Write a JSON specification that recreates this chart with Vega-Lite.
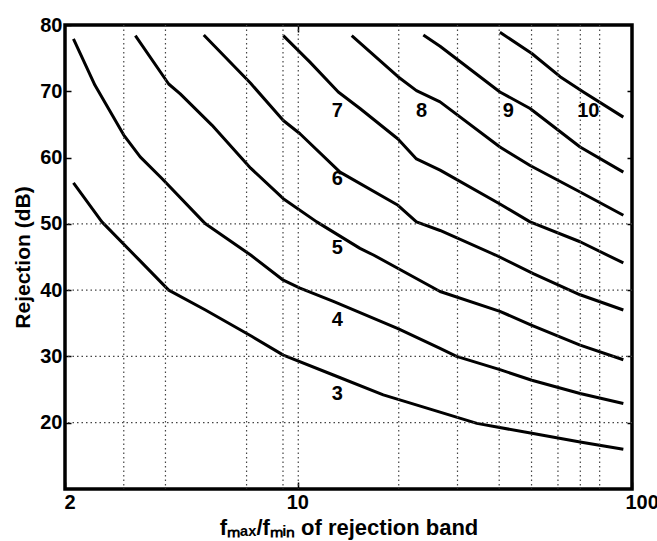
{
  "$schema": "https://vega.github.io/schema/vega-lite/v6.json",
  "width": 567,
  "height": 464,
  "autosize": {"type": "none"},
  "padding": {"left": 65, "top": 25, "right": 25, "bottom": 52},
  "background": "white",
  "config": {
    "view": {"stroke": "black", "strokeWidth": 3.5},
    "font": "Liberation Sans",
    "axis": {
      "grid": false, "domain": false, "tickColor": "black", "tickWidth": 1.5,
      "labelFontSize": 20, "labelFontWeight": "bold", "labelColor": "black", "labelFont": "Liberation Sans",
      "titleFontSize": 21, "titleFontWeight": "bold", "titleColor": "black", "titleFont": "Liberation Sans"
    }
  },
  "resolve": {"axis": {"x": "independent", "y": "independent"}},
  "datasets": {
    "vgrid": [{"x": 3}, {"x": 4}, {"x": 7}, {"x": 9}, {"x": 10}, {"x": 20}, {"x": 30}, {"x": 40}, {"x": 50}, {"x": 60}, {"x": 70}, {"x": 80}],
    "hgrid": [{"y": 20}, {"y": 30}, {"y": 40}, {"y": 50}],
    "curves": [
      {"n": "3", "x": 2.12, "y": 56.2}, {"n": "3", "x": 2.58, "y": 50.3}, {"n": "3", "x": 3.33, "y": 44.6}, {"n": "3", "x": 4.09, "y": 40.0}, {"n": "3", "x": 5.27, "y": 37.0}, {"n": "3", "x": 7.27, "y": 33.0}, {"n": "3", "x": 9.02, "y": 30.2}, {"n": "3", "x": 12.74, "y": 27.2}, {"n": "3", "x": 17.98, "y": 24.2}, {"n": "3", "x": 26.6, "y": 21.6}, {"n": "3", "x": 34.3, "y": 19.9}, {"n": "3", "x": 50.1, "y": 18.4}, {"n": "3", "x": 69.9, "y": 17.1}, {"n": "3", "x": 94.2, "y": 16.0},
      {"n": "4", "x": 2.12, "y": 77.9}, {"n": "4", "x": 2.46, "y": 70.9}, {"n": "4", "x": 3.0, "y": 63.4}, {"n": "4", "x": 3.36, "y": 60.1}, {"n": "4", "x": 3.91, "y": 56.8}, {"n": "4", "x": 5.27, "y": 50.0}, {"n": "4", "x": 7.2, "y": 45.3}, {"n": "4", "x": 9.02, "y": 41.5}, {"n": "4", "x": 10.12, "y": 40.3}, {"n": "4", "x": 12.74, "y": 38.3}, {"n": "4", "x": 19.9, "y": 34.2}, {"n": "4", "x": 26.6, "y": 31.2}, {"n": "4", "x": 29.8, "y": 30.0}, {"n": "4", "x": 40.2, "y": 28.0}, {"n": "4", "x": 50.1, "y": 26.4}, {"n": "4", "x": 69.9, "y": 24.4}, {"n": "4", "x": 94.2, "y": 22.9},
      {"n": "5", "x": 3.25, "y": 78.4}, {"n": "5", "x": 4.09, "y": 71.1}, {"n": "5", "x": 4.43, "y": 69.6}, {"n": "5", "x": 5.51, "y": 64.9}, {"n": "5", "x": 7.2, "y": 58.4}, {"n": "5", "x": 9.02, "y": 53.8}, {"n": "5", "x": 11.36, "y": 50.3}, {"n": "5", "x": 15.31, "y": 46.3}, {"n": "5", "x": 16.8, "y": 45.3}, {"n": "5", "x": 26.6, "y": 39.8}, {"n": "5", "x": 40.2, "y": 36.8}, {"n": "5", "x": 50.1, "y": 34.7}, {"n": "5", "x": 69.9, "y": 31.7}, {"n": "5", "x": 94.2, "y": 29.5},
      {"n": "6", "x": 5.21, "y": 78.5}, {"n": "6", "x": 7.2, "y": 71.2}, {"n": "6", "x": 9.02, "y": 65.6}, {"n": "6", "x": 10.12, "y": 63.6}, {"n": "6", "x": 13.34, "y": 57.8}, {"n": "6", "x": 19.9, "y": 52.8}, {"n": "6", "x": 22.6, "y": 50.3}, {"n": "6", "x": 26.6, "y": 49.0}, {"n": "6", "x": 39.0, "y": 45.3}, {"n": "6", "x": 50.6, "y": 42.5}, {"n": "6", "x": 69.9, "y": 39.3}, {"n": "6", "x": 94.2, "y": 37.0},
      {"n": "7", "x": 9.02, "y": 78.4}, {"n": "7", "x": 10.84, "y": 74.4}, {"n": "7", "x": 13.18, "y": 69.9}, {"n": "7", "x": 15.31, "y": 67.4}, {"n": "7", "x": 19.9, "y": 62.8}, {"n": "7", "x": 22.6, "y": 59.8}, {"n": "7", "x": 26.6, "y": 58.1}, {"n": "7", "x": 40.2, "y": 53.0}, {"n": "7", "x": 49.5, "y": 50.3}, {"n": "7", "x": 69.9, "y": 47.3}, {"n": "7", "x": 94.2, "y": 44.1},
      {"n": "8", "x": 14.46, "y": 78.4}, {"n": "8", "x": 19.9, "y": 72.2}, {"n": "8", "x": 22.6, "y": 70.1}, {"n": "8", "x": 26.6, "y": 68.4}, {"n": "8", "x": 40.2, "y": 61.6}, {"n": "8", "x": 49.5, "y": 58.8}, {"n": "8", "x": 69.9, "y": 54.8}, {"n": "8", "x": 94.2, "y": 51.3},
      {"n": "9", "x": 23.7, "y": 78.5}, {"n": "9", "x": 26.6, "y": 76.8}, {"n": "9", "x": 40.2, "y": 69.9}, {"n": "9", "x": 49.5, "y": 67.4}, {"n": "9", "x": 69.9, "y": 61.6}, {"n": "9", "x": 94.2, "y": 57.8},
      {"n": "10", "x": 40.2, "y": 78.9}, {"n": "10", "x": 50.1, "y": 75.7}, {"n": "10", "x": 60.9, "y": 72.2}, {"n": "10", "x": 71.5, "y": 69.9}, {"n": "10", "x": 94.2, "y": 66.1}
    ],
    "labels": [
      {"t": "3", "x": 13.1, "y": 24.4}, {"t": "4", "x": 13.1, "y": 35.5}, {"t": "5", "x": 13.1, "y": 46.3}, {"t": "6", "x": 13.1, "y": 56.8}, {"t": "7", "x": 13.1, "y": 67.1}, {"t": "8", "x": 23.4, "y": 67.1}, {"t": "9", "x": 42.6, "y": 67.1}, {"t": "10", "x": 74.0, "y": 67.1}
    ]
  },
  "layer": [
    {
      "data": {"name": "curves"},
      "mark": {"type": "line", "color": "black", "strokeWidth": 3, "strokeJoin": "round", "strokeCap": "butt"},
      "encoding": {
        "x": {
          "field": "x", "type": "quantitative",
          "scale": {"type": "log", "domain": [2, 100], "nice": false},
          "axis": {
            "values": [2, 10, 100], "format": "d",
            "tickSize": -7, "labelPadding": 10, "labelFlush": false,
            "labelAlign": {"condition": {"test": "datum.value == 10", "value": "center"}, "value": "left"},
            "labelOffset": {"condition": {"test": "datum.value == 100", "value": -7}, "value": -1},
            "title": "fₘₐₓ/fₘᵢₙ of rejection band", "titlePadding": 5, "titleFontSize": 22
          }
        },
        "y": {
          "field": "y", "type": "quantitative",
          "scale": {"domain": [10, 80], "nice": false, "zero": false},
          "axis": {
            "values": [20, 30, 40, 50, 60, 70, 80],
            "tickSize": -6, "labelPadding": 9,
            "title": "Rejection (dB)", "titlePadding": 6
          }
        },
        "detail": {"field": "n", "type": "nominal"}
      }
    },
    {
      "data": {"name": "vgrid"},
      "mark": {"type": "rule", "color": "#444", "strokeWidth": 1.2, "strokeDash": [1.5, 3]},
      "encoding": {
        "x": {
          "field": "x", "type": "quantitative", "scale": {"type": "log", "domain": [2, 100], "nice": false},
          "axis": {"orient": "top", "values": [10], "labels": false, "tickSize": -7, "title": null}
        }
      }
    },
    {
      "data": {"name": "hgrid"},
      "mark": {"type": "rule", "color": "#444", "strokeWidth": 1.2, "strokeDash": [1.5, 3]},
      "encoding": {
        "y": {
          "field": "y", "type": "quantitative", "scale": {"domain": [10, 80], "nice": false, "zero": false},
          "axis": {"orient": "right", "values": [20, 30, 40, 50, 60, 70], "labels": false, "tickSize": -5, "title": null}
        }
      }
    },
    {
      "data": {"name": "labels"},
      "mark": {"type": "text", "font": "Liberation Sans", "fontSize": 20, "fontWeight": "bold", "color": "black", "align": "center", "baseline": "middle"},
      "encoding": {
        "x": {"field": "x", "type": "quantitative", "scale": {"type": "log", "domain": [2, 100], "nice": false}, "axis": null},
        "y": {"field": "y", "type": "quantitative", "scale": {"domain": [10, 80], "nice": false, "zero": false}, "axis": null},
        "text": {"field": "t", "type": "nominal"}
      }
    }
  ]
}
